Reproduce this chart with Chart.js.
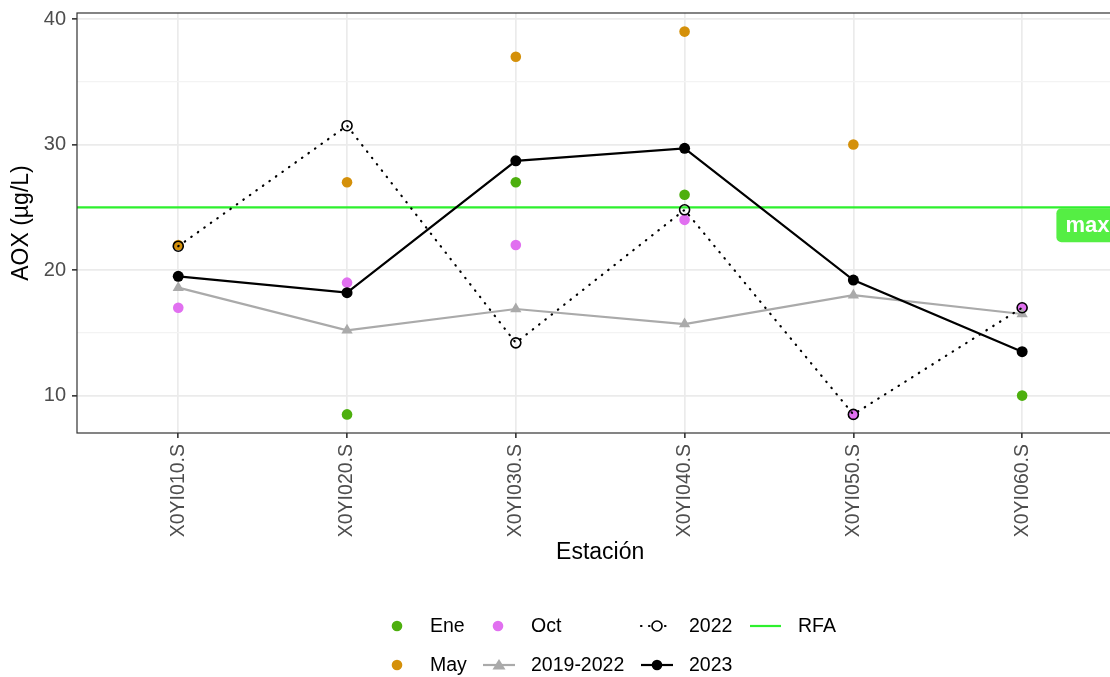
<!DOCTYPE html>
<html>
<head>
<meta charset="utf-8">
<script src="https://cdn.jsdelivr.net/npm/chart.js@4/dist/chart.umd.min.js"></script>
<style>
  html, body { margin: 0; padding: 0; background: #fff; overflow: hidden; }
  #wrap { width: 1110px; height: 677px; overflow: hidden; }
  canvas { display: block; }
</style>
</head>
<body>
<div id="wrap"><canvas id="aox" width="1130" height="677"></canvas></div>
<script>
const stations = ['X0YI010.S', 'X0YI020.S', 'X0YI030.S', 'X0YI040.S', 'X0YI050.S', 'X0YI060.S'];

// campaign samples
const ene = [null, 8.5, 27, 26, null, 10];
const may = [22, 27, 37, 39, 30, null];
const oct = [17, 19, 22, 24, 8.5, 17];

// yearly means
const aox2022 = [21.9, 31.5, 14.2, 24.8, 8.5, 17];
const aox2019to2022 = [18.6, 15.2, 16.9, 15.7, 18.0, 16.5];
const aox2023 = [19.5, 18.2, 28.7, 29.7, 19.2, 13.5];

const rfaMax = 25;
const yTicks = [10, 15, 20, 25, 30, 35, 40];

const FONT = '"Liberation Sans", Arial, sans-serif';
const C = {
  ene: '#4DAF0E',
  may: '#D4900A',
  oct: '#E170F0',
  grey: '#AAAAAA',
  rfa: '#2EF02E',
  rfaLabel: '#55EE44'
};

const toXY = arr => arr.map((v, i) => ({ x: i, y: v }));
const X_MIN = -0.6, X_MAX = stations.length - 1 + 0.6;

const pointSet = (label, values, color, order) => ({
  label, data: toXY(values), order,
  showLine: false,
  pointRadius: 5.3, pointHoverRadius: 5.3,
  pointBackgroundColor: color, pointBorderWidth: 0,
  backgroundColor: color, borderColor: color
});

// panel border, "max" tag, axis titles and legend
const decorations = {
  id: 'decorations',
  afterDatasetsDraw(chart) {
    const { ctx, chartArea: a, scales: { y } } = chart;
    ctx.save();
    ctx.strokeStyle = '#333333';
    ctx.lineWidth = 1.2;
    ctx.strokeRect(a.left, a.top, a.right - a.left, a.bottom - a.top);

    // label for the RFA limit
    const yl = y.getPixelForValue(rfaMax);
    const bx = a.right - 67, bw = 62, bh = 34;
    ctx.fillStyle = C.rfaLabel;
    ctx.beginPath();
    ctx.roundRect(bx, yl + 1, bw, bh, 5);
    ctx.fill();
    ctx.fillStyle = '#fff';
    ctx.font = 'bold 22px ' + FONT;
    ctx.textBaseline = 'middle';
    ctx.textAlign = 'left';
    ctx.fillText('max', bx + 9, yl + 1 + bh / 2 + 1);
    ctx.restore();
  },
  afterDraw(chart) {
    const { ctx, chartArea: a } = chart;
    ctx.save();
    ctx.fillStyle = '#000';
    ctx.textBaseline = 'middle';
    ctx.textAlign = 'center';
    ctx.font = '23px ' + FONT;
    ctx.fillText('Estación', (a.left + a.right) / 2, 553);
    ctx.translate(22, (a.top + a.bottom) / 2);
    ctx.rotate(-Math.PI / 2);
    ctx.fillText('AOX (µg/L)', 0, 0);
    ctx.restore();

    const r1 = 626, r2 = 665;
    const dot = (x, y, color) => {
      ctx.fillStyle = color;
      ctx.beginPath(); ctx.arc(x, y, 5.3, 0, Math.PI * 2); ctx.fill();
    };
    const seg = (x0, x1, y, color, dash) => {
      ctx.save();
      ctx.strokeStyle = color; ctx.lineWidth = 2.2;
      if (dash) { ctx.setLineDash([0.5, 7.5]); ctx.lineCap = 'round'; }
      ctx.beginPath(); ctx.moveTo(x0, y); ctx.lineTo(x1, y); ctx.stroke();
      ctx.restore();
    };
    const text = (s, x, y) => {
      ctx.fillStyle = '#000';
      ctx.font = '19.5px ' + FONT;
      ctx.textAlign = 'left';
      ctx.textBaseline = 'middle';
      ctx.fillText(s, x, y + 1);
    };

    ctx.save();
    dot(397, r1, C.ene); text('Ene', 430, r1);
    dot(397, r2, C.may); text('May', 430, r2);
    dot(498, r1, C.oct); text('Oct', 531, r1);

    seg(483, 515, r2, C.grey);
    ctx.fillStyle = C.grey;
    ctx.beginPath();
    ctx.moveTo(499, r2 - 6); ctx.lineTo(505.5, r2 + 4.5); ctx.lineTo(492.5, r2 + 4.5);
    ctx.closePath(); ctx.fill();
    text('2019-2022', 531, r2);

    seg(641, 673, r1, '#000', true);
    ctx.fillStyle = '#fff';
    ctx.strokeStyle = '#000'; ctx.lineWidth = 1.6;
    ctx.beginPath(); ctx.arc(657, r1, 5, 0, Math.PI * 2); ctx.fill(); ctx.stroke();
    text('2022', 689, r1);

    seg(641, 673, r2, '#000');
    dot(657, r2, '#000');
    text('2023', 689, r2);

    seg(750, 781, r1, C.rfa);
    text('RFA', 798, r1);
    ctx.restore();
  }
};

new Chart(document.getElementById('aox'), {
  type: 'scatter',
  plugins: [decorations],
  data: {
    datasets: [
      {
        label: 'RFA',
        data: [{ x: X_MIN, y: rfaMax }, { x: X_MAX, y: rfaMax }],
        order: 7,
        showLine: true, borderColor: C.rfa, borderWidth: 2.2,
        pointRadius: 0, pointHoverRadius: 0
      },
      pointSet('Ene', ene, C.ene, 6),
      pointSet('May', may, C.may, 5),
      pointSet('Oct', oct, C.oct, 4),
      {
        label: '2019-2022',
        data: toXY(aox2019to2022), order: 3,
        showLine: true, borderColor: C.grey, borderWidth: 2.2,
        pointStyle: 'triangle', pointRadius: 6.5, pointHoverRadius: 6.5,
        pointBackgroundColor: C.grey, pointBorderWidth: 0
      },
      {
        label: '2022',
        data: toXY(aox2022), order: 2,
        showLine: true, borderColor: '#000', borderWidth: 2.2,
        borderDash: [0.5, 7.5], borderCapStyle: 'round',
        pointRadius: 5, pointHoverRadius: 5,
        pointBackgroundColor: 'rgba(0,0,0,0)', pointBorderColor: '#000', pointBorderWidth: 1.6
      },
      {
        label: '2023',
        data: toXY(aox2023), order: 1,
        showLine: true, borderColor: '#000', borderWidth: 2.2,
        pointRadius: 5.5, pointHoverRadius: 5.5,
        pointBackgroundColor: '#000', pointBorderWidth: 0
      }
    ]
  },
  options: {
    responsive: false,
    animation: false,
    layout: { padding: { top: 13, right: 6, bottom: 0, left: 0 } },
    plugins: { legend: { display: false }, tooltip: { enabled: false } },
    scales: {
      x: {
        type: 'linear',
        min: X_MIN, max: X_MAX,
        afterBuildTicks: s => { s.ticks = stations.map((_, i) => ({ value: i })); },
        afterFit: s => { s.height = 677 - 433; },
        border: { display: false },
        grid: { color: '#EBEBEB', lineWidth: 1.7, tickColor: '#333333', tickWidth: 1.6, tickLength: 5 },
        ticks: {
          callback: v => stations[v],
          minRotation: 90, maxRotation: 90, autoSkip: false,
          padding: 6,
          color: '#4D4D4D',
          font: { family: FONT, size: 19.5 }
        }
      },
      y: {
        min: 7.02, max: 40.48,
        afterBuildTicks: s => { s.ticks = yTicks.map(v => ({ value: v })); },
        afterFit: s => { s.width = 77; s.paddingTop = 0; s.paddingBottom = 0; },
        border: { display: false },
        grid: {
          color: c => c.tick && c.tick.value % 10 === 0 ? '#EBEBEB' : '#F3F3F3',
          lineWidth: c => c.tick && c.tick.value % 10 === 0 ? 1.7 : 1.2,
          tickColor: c => c.tick && c.tick.value % 10 === 0 ? '#333333' : 'rgba(0,0,0,0)',
          tickWidth: 1.6, tickLength: 5
        },
        ticks: {
          callback: v => v % 10 === 0 ? String(v) : '',
          autoSkip: false,
          padding: 6,
          color: '#4D4D4D',
          font: { family: FONT, size: 20 }
        }
      }
    }
  }
});
</script>
</body>
</html>
